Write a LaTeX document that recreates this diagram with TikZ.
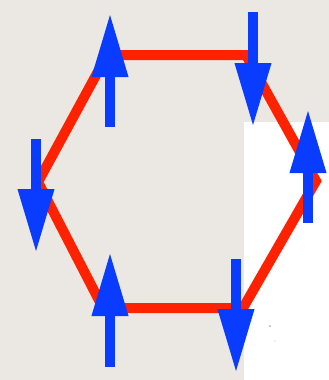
\documentclass[tikz,border=0pt]{standalone}
\usetikzlibrary{arrows.meta}
\definecolor{paper}{HTML}{EBE8E3}
\definecolor{bondred}{HTML}{FF2200}
\definecolor{spinblue}{HTML}{0A3CFF}
\tikzset{
  bond/.style={draw=bondred, line width=10pt, line join=miter},
  spin/.style={draw=spinblue, line width=10pt,
    -{Triangle[length=64pt,width=34pt,fill=spinblue]}},
}
\begin{document}
\begin{tikzpicture}[x=1pt,y=-1pt]
  \useasboundingbox (0,0) rectangle (329,380);
  \fill[paper] (0,0) rectangle (329,380);
  \fill[white] (244,122) rectangle (329,380);
  \fill[gray!70] (270,326) circle (1pt);
  \fill[gray!50] (275,341) circle (0.7pt);
  % hexagon vertices
  \coordinate (tl) at (107,55);
  \coordinate (tr) at (246,55);
  \coordinate (r)  at (316,181);
  \coordinate (br) at (243,308);
  \coordinate (bl) at (103,308);
  \coordinate (l)  at (38,182);
  \draw[bond] (tl) -- (tr) -- (r) -- (br) -- (bl) -- (l) -- cycle;
  % spin arrows
  \coordinate (s1a) at (110,127); \coordinate (s1b) at (110,13);
  \coordinate (s2a) at (253,12);  \coordinate (s2b) at (253,127);
  \coordinate (s3a) at (308,223); \coordinate (s3b) at (308,109);
  \coordinate (s4a) at (36,139);  \coordinate (s4b) at (36,253);
  \coordinate (s5a) at (110,367); \coordinate (s5b) at (110,252);
  \coordinate (s6a) at (236,259); \coordinate (s6b) at (236,373);
  \draw[spin] (s1a) -- (s1b);
  \draw[spin] (s2a) -- (s2b);
  \draw[spin] (s3a) -- (s3b);
  \draw[spin] (s4a) -- (s4b);
  \draw[spin] (s5a) -- (s5b);
  \draw[spin] (s6a) -- (s6b);
\end{tikzpicture}
\end{document}
